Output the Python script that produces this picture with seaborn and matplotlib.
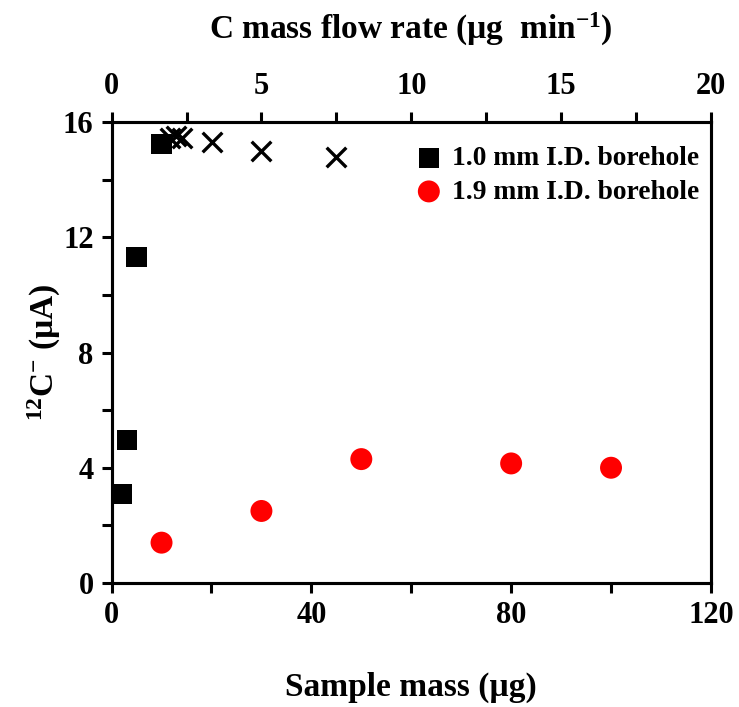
import numpy as np
import pandas as pd
import matplotlib
matplotlib.use('Agg')
import matplotlib.pyplot as plt
from matplotlib.ticker import MultipleLocator
import seaborn as sns

# data
mass_10 = [2, 3, 5, 10]
current_10 = [3.1, 4.95, 11.3, 15.25]
mass_19 = [10, 30, 50, 80, 100]
current_19 = [1.4, 2.5, 4.3, 4.15, 4.0]
flow_rate = [1.95, 2.15, 2.35, 3.35, 5.0, 7.5]
current_flow = [15.45, 15.5, 15.45, 15.3, 15.0, 14.8]

sns.set_theme(style='white', rc={'text.color': 'black', 'axes.labelcolor': 'black',
                                 'xtick.color': 'black', 'ytick.color': 'black'})
plt.rcParams['font.family'] = ['Liberation Serif', 'DejaVu Serif']
plt.rcParams['font.weight'] = 'bold'
plt.rcParams['mathtext.default'] = 'regular'

df10 = pd.DataFrame({'mass': mass_10, 'current': current_10})
df19 = pd.DataFrame({'mass': mass_19, 'current': current_19})
dff = pd.DataFrame({'flow': flow_rate, 'current': current_flow})

fig = plt.figure(figsize=(7.39, 7.07), dpi=100)
ax = fig.add_axes([0.151, 0.1754, 0.811, 0.652])

sns.scatterplot(data=df10, x='mass', y='current', marker='s', s=210, color='black',
                edgecolor='none', label='1.0 mm I.D. borehole', ax=ax, zorder=4)
sns.scatterplot(data=df19, x='mass', y='current', marker='o', s=250, color='#ff0000',
                edgecolor='none', label='1.9 mm I.D. borehole', ax=ax, zorder=4)

ax.set_xlim(0, 120)
ax.set_ylim(0, 16)
ax.xaxis.set_major_locator(MultipleLocator(40))
ax.xaxis.set_minor_locator(MultipleLocator(20))
ax.yaxis.set_major_locator(MultipleLocator(4))
ax.yaxis.set_minor_locator(MultipleLocator(2))
ax.tick_params(which='both', direction='out', length=7, width=2.2, labelsize=22,
               bottom=True, left=True, pad=6, color='black', labelcolor='black')
ax.set_xlabel('Sample mass (µg)', fontsize=24, fontweight='bold', labelpad=30)
ax.set_ylabel('$^{12}$C$^{-}$ (µA)', fontsize=24, fontweight='bold', labelpad=0)

leg = ax.legend(loc='upper right', bbox_to_anchor=(1.013, 0.99), frameon=False,
                fontsize=19.8, handlelength=1.0, handletextpad=0.35,
                borderaxespad=0.3, labelspacing=0.3, markerscale=1.0)

ax2 = ax.twiny()
sns.scatterplot(data=dff, x='flow', y='current', marker='x', s=200, color='black',
                linewidth=2.4, ax=ax2, zorder=3, legend=False)
ax2.set_xlim(0, 20)
ax2.set_ylim(0, 16)
ax2.xaxis.set_major_locator(MultipleLocator(5))
ax2.xaxis.set_minor_locator(MultipleLocator(2.5))
ax2.tick_params(which='both', direction='out', length=7, width=2.2, labelsize=22,
                top=True, pad=8, color='black', labelcolor='black')
ax2.set_xlabel('C mass flow rate (µg  min$^{-1}$)', fontsize=24, fontweight='bold', labelpad=24)
ax2.set_ylabel('')

for a in (ax, ax2):
    for sp in a.spines.values():
        sp.set_linewidth(2.2)
        sp.set_color('black')

fig.savefig('out.png', dpi=100)
